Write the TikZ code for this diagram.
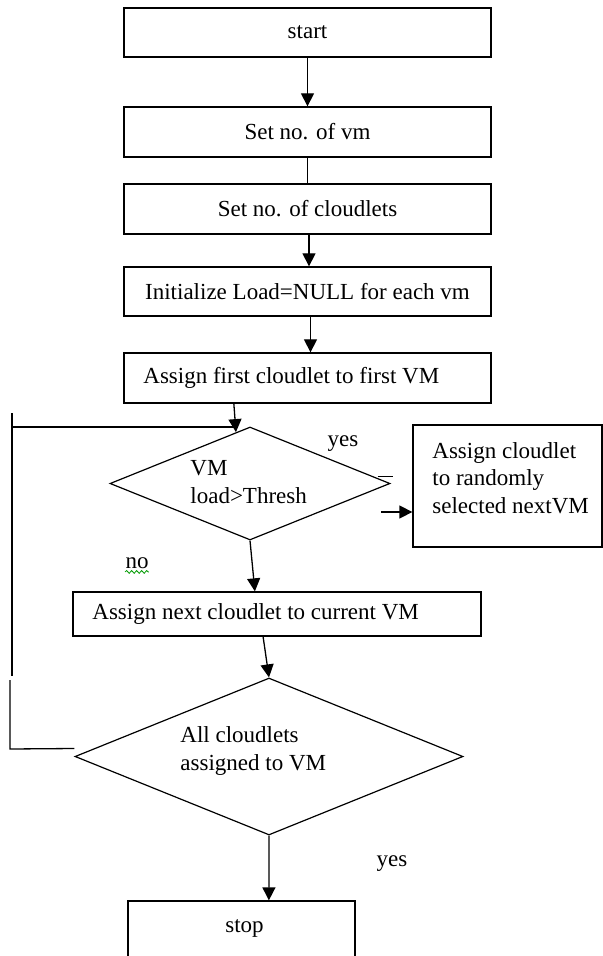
\documentclass[tikz,border=0pt]{standalone}
\usepackage{fontspec}
\setmainfont{Liberation Serif}
\usetikzlibrary{arrows.meta,shapes.geometric,calc,decorations.pathmorphing}
\begin{document}
\begin{tikzpicture}[x=0.5pt,y=-0.5pt,
  box/.style={draw,line width=0.65pt,inner sep=0pt},
  dia/.style={draw,diamond,line width=0.6pt,inner sep=0pt},
  txt/.style={font=\fontsize{11.5}{13.8}\selectfont,inner sep=0pt},
  arr/.style={line width=0.65pt,-{Triangle[length=6.5pt,width=6.5pt]}},
  ln/.style={line width=0.65pt}]
\useasboundingbox (0,0) rectangle (603,956);
\clip (0,0) rectangle (603,956);
% boxes
\node[box,txt,minimum width=183.5pt,minimum height=24.5pt] (start) at (307.5,32.5) {start};
\node[box,txt,minimum width=183.5pt,minimum height=25pt] (vm) at (307.5,132) {Set no. of vm};
\node[box,txt,minimum width=183.5pt,minimum height=25pt] (cl) at (307.5,209) {Set no. of cloudlets};
\node[box,txt,minimum width=183.5pt,minimum height=24.5pt] (init) at (307.5,291.5) {Initialize Load=NULL for each vm};
\node[box,minimum width=183.5pt,minimum height=25pt] (a1) at (307.5,378) {};
\node[txt,anchor=west] (a1t) at (143,378) {Assign first cloudlet to first VM};
\node[dia,minimum width=140pt,minimum height=56.5pt] (d1) at (250,483.5) {};
\node[txt,anchor=west,align=left] (d1t) at (190,482) {VM\\load>Thresh};
\node[box,minimum width=94.5pt,minimum height=61pt] (rand) at (507.5,486) {};
\node[txt,anchor=west,align=left] (randt) at (432,478) {Assign cloudlet\\to randomly\\selected nextVM};
\node[box,minimum width=204pt,minimum height=22pt] (next) at (277,614) {};
\node[txt,anchor=west] (nextt) at (92,614) {Assign next cloudlet to current VM};
\node[dia,minimum width=194pt,minimum height=78.5pt] (d2) at (269,756.5) {};
\node[txt,anchor=west,align=left] (d2t) at (180,751) {All cloudlets\\assigned to VM};
\node[box,minimum width=113.5pt,minimum height=44.5pt] (stop) at (241.5,945.5) {};
\node[txt] (stopt) at (244.5,928) {stop};
% labels
\node[txt] (yes1) at (343,444) {yes};
\node[txt] (yes2) at (392,864) {yes};
\node[txt] (no) at (137,563) {no};
\draw[green!60!black,line width=0.4pt,decorate,decoration={snake,amplitude=0.7pt,segment length=2.5pt}]
  ([yshift=-1.5pt]no.south west) -- ([yshift=-1.5pt]no.south east);
% connectors
\draw[arr] (start.south) -- (vm.north);
\draw[ln] (vm.south) -- (cl.north);
\draw[arr] ([xshift=0.75pt]cl.south) -- ([xshift=0.75pt]init.north);
\draw[arr] ([xshift=1.5pt]init.south) -- ([xshift=1.5pt]a1.north);
\draw[arr] ($(a1.south west)!0.30!(a1.south east)$) -- ($(d1.north)!0.1!(d1.west)$);
\draw[ln] ($(d1.east)+(-13,-7)$) -- ($(d1.east)+(2,-7)$);
\coordinate (yesst) at (381,512);
\draw[arr] (yesst) -- (yesst -| rand.west);
\draw[arr] (d1.south) -- ($(next.north west)!0.446!(next.north east)$);
\draw[arr] ($(next.south west)!0.466!(next.south east)$) -- (d2.north);
\draw[arr] (d2.south) -- ($(stop.north west)!0.62!(stop.north east)$);
% loop back
\coordinate (Ltop) at (12,413);
\coordinate (Lbreak) at (12,676);
\coordinate (Lh) at (12,427);
\coordinate (J) at (235.5,427);
\coordinate (Mtop) at (10,680);
\coordinate (Mbot) at (10,749);
\draw[ln] (Ltop) -- (Lbreak);
\draw[ln] (Lh) -- (J);
\draw[ln] (Mtop) -- (Mbot) -- ($(d2.west)+(0,-8)$);
\end{tikzpicture}
\end{document}
